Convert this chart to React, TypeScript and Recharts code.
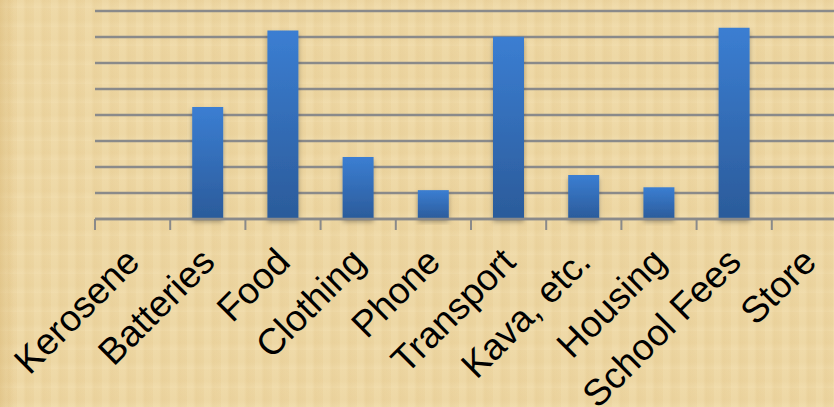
import React from "react";
import { BarChart, Bar, XAxis, YAxis, CartesianGrid } from "recharts";

const CATEGORIES = [
  "Kerosene",
  "Batteries",
  "Food",
  "Clothing",
  "Phone",
  "Transport",
  "Kava, etc.",
  "Housing",
  "School Fees",
  "Store",
];
const VALUES = [0, 4.31, 7.25, 2.38, 1.11, 7.01, 1.69, 1.22, 7.36, 0];
const Y_TICKS = [0, 1, 2, 3, 4, 5, 6, 7, 8];

const data = CATEGORIES.map((name, i) => ({ name, value: VALUES[i] }));

const CHART_W = 870;
const CHART_H = 407;
const LEFT = 95;
const RIGHT = 23;
const BAND = (CHART_W - LEFT - RIGHT) / CATEGORIES.length;

const AxisTick = ({ x, y, payload }: any) => {
  const tx = x - BAND / 2;
  const ax = x + 9;
  const ay = y + 37;
  return (
    <g>
      <line x1={tx} y1={y - 8} x2={tx} y2={y + 3} stroke="#8a8a8a" strokeWidth={2} />
      <text
        x={ax}
        y={ay}
        transform={`rotate(-45, ${ax}, ${ay})`}
        textAnchor="end"
        fontSize={37}
        fontFamily="'Liberation Sans', Arial, sans-serif"
        fill="#000"
      >
        {payload.value}
      </text>
    </g>
  );
};

export default function App() {
  return (
    <div
      style={{
        position: "absolute",
        left: 0,
        top: 0,
        width: 834,
        height: 407,
        overflow: "hidden",
        backgroundColor: "#edd6a2",
        backgroundImage:
          "linear-gradient(90deg, rgba(205,165,90,0.35) 0px, rgba(205,165,90,0) 14px), repeating-linear-gradient(90deg, rgba(255,244,210,0.12) 0px, rgba(255,244,210,0.12) 6px, rgba(210,175,105,0.07) 9px, rgba(255,244,210,0) 17px), repeating-linear-gradient(0deg, rgba(255,246,215,0.10) 0px, rgba(210,175,105,0.06) 7px, rgba(255,246,215,0) 19px)",
      }}
    >
      <BarChart
        width={CHART_W}
        height={CHART_H}
        data={data}
        margin={{ top: 11, right: RIGHT, left: LEFT, bottom: 0 }}
      >
        <defs>
          <linearGradient id="barFill" x1="0" y1="0" x2="0" y2="1">
            <stop offset="0%" stopColor="#3b7ed2" />
            <stop offset="100%" stopColor="#2b5b9a" />
          </linearGradient>
          <filter id="barShadow" x="-30%" y="-10%" width="160%" height="130%">
            <feDropShadow dx="0" dy="3" stdDeviation="2.5" floodColor="#000" floodOpacity="0.3" />
          </filter>
        </defs>
        <CartesianGrid vertical={false} stroke="#8a8a8a" strokeWidth={2.5} />
        <YAxis hide domain={[0, 8]} ticks={Y_TICKS} />
        <XAxis
          dataKey="name"
          interval={0}
          height={188}
          axisLine={{ stroke: "#8a8a8a", strokeWidth: 2.5 }}
          tickLine={false}
          tick={<AxisTick />}
        />
        <Bar
          dataKey="value"
          fill="url(#barFill)"
          barSize={31}
          filter="url(#barShadow)"
          isAnimationActive={false}
        />
      </BarChart>
    </div>
  );
}
